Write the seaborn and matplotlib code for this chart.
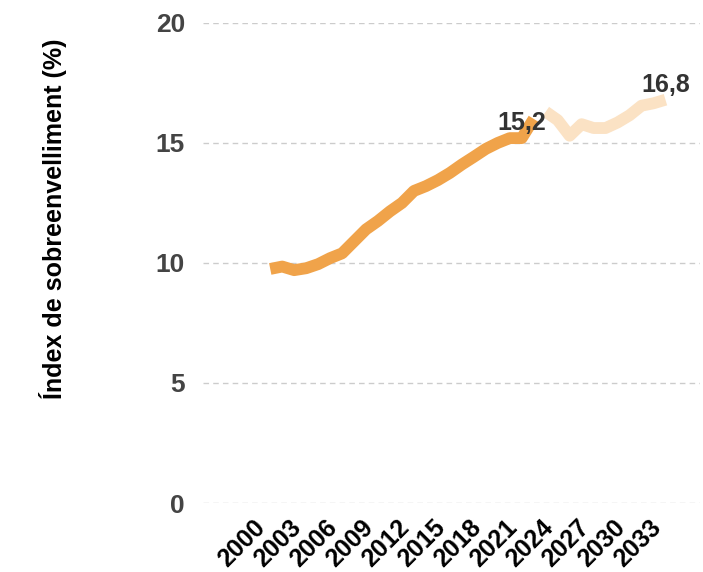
import matplotlib
matplotlib.use("Agg")
import matplotlib.pyplot as plt
import seaborn as sns
import pandas as pd

hist_years = list(range(2000, 2023))
hist_values = [9.75, 9.85, 9.7, 9.78, 9.95, 10.2, 10.4, 10.9, 11.4, 11.75, 12.15,
               12.5, 13.0, 13.2, 13.45, 13.75, 14.1, 14.42, 14.75, 15.0, 15.2, 15.2, 16.0]
proj_years = list(range(2023, 2034))
proj_values = [16.3, 15.95, 15.3, 15.78, 15.62, 15.62, 15.85, 16.15, 16.55, 16.65, 16.8]
tick_years = list(range(2000, 2034, 3))
y_ticks = [0, 5, 10, 15, 20]
labels = [(2021, 15.2, "15,2"), (2033, 16.8, "16,8")]

sns.set_theme(style="white")
plt.rcParams['font.family'] = ['Liberation Sans', 'DejaVu Sans']

fig = plt.figure(figsize=(7.03, 5.72), dpi=100)
ax = fig.add_axes([0.289, 0.1206, 0.707, 0.8394])

df_h = pd.DataFrame({"year": hist_years, "value": hist_values})
df_p = pd.DataFrame({"year": proj_years, "value": proj_values})
sns.lineplot(data=df_h, x="year", y="value", ax=ax, color="#F0A34A", linewidth=8.5,
             solid_capstyle="butt", solid_joinstyle="round", zorder=3)
sns.lineplot(data=df_p, x="year", y="value", ax=ax, color="#FBE2C4", linewidth=8.5,
             solid_capstyle="butt", solid_joinstyle="round", zorder=2)

ax.set_xlim(1994.4, 2035.9)
ax.set_ylim(0, 20)
ax.set_yticks(y_ticks)
ax.set_yticklabels([str(v) for v in y_ticks], fontsize=19, fontweight="bold", color="#444444")
ax.set_xticks(tick_years)
ax.set_xticklabels([str(y) for y in tick_years], rotation=45, ha="right",
                   fontsize=18, fontweight="bold", color="black")
ax.tick_params(axis="both", length=0)
ax.tick_params(axis="y", pad=13)
ax.tick_params(axis="x", pad=9)
for s in ax.spines.values():
    s.set_visible(False)
ax.yaxis.grid(True, color="#cccccc", linestyle=(0, (4, 3)), linewidth=1)
ax.xaxis.grid(False)
ax.set_axisbelow(True)
ax.set_xlabel("")
ax.set_ylabel("Índex de sobreenvelliment (%)", fontsize=18, fontweight="bold",
              color="black")
ax.yaxis.set_label_coords(-0.274, 0.592)

for x, y, t in labels:
    ax.annotate(t, (x, y), xytext=(0, 2), textcoords="offset points", ha="center",
                va="bottom", fontsize=18, fontweight="bold", color="#333333",
                annotation_clip=False, zorder=5)

fig.savefig("out.png", dpi=100)
